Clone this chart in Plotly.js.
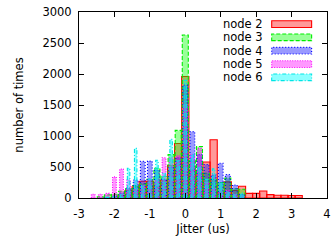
<!DOCTYPE html>
<html>
<head>
<meta charset="utf-8">
<script src="https://cdn.plot.ly/plotly-3.0.1.min.js"></script>
<style>html,body{margin:0;padding:0;background:#fff;}#chart{width:331px;height:244px;}</style>
</head>
<body>
<div id="chart"></div>
<script>
// Bin centres (us)
const bins = [-2.8,-2.6,-2.4,-2.2,-2.0,-1.8,-1.6,-1.4,-1.2,-1.0,-0.8,-0.6,-0.4,-0.2,0.0,0.2,0.4,0.6,0.8,1.0,1.2,1.4,1.6,1.8,2.0,2.2,2.4,2.6,2.8,3.0,3.2];
const seriesNames = ["node 2","node 3","node 4","node 5","node 6"];
const node2 = [0,0,0,0,10,40,120,180,270,270,180,290,525,880,1960,450,400,580,940,90,260,120,190,75,75,113,55,45,45,40,40];
const node3 = [0,0,20,50,60,110,150,200,230,300,480,350,700,1090,2630,600,830,400,300,250,320,150,140,0,0,0,0,0,0,0,0];
const node4 = [0,0,0,10,30,80,150,290,590,595,450,300,500,650,1820,1070,700,540,370,560,380,210,60,0,0,0,0,0,0,0,0];
const node5 = [0,60,60,75,340,465,290,150,200,300,280,650,650,680,1500,700,800,250,150,100,120,60,30,0,0,0,0,0,0,0,0];
const node6 = [0,0,0,10,20,60,480,800,200,300,610,400,945,600,1900,700,500,300,470,250,100,60,80,0,0,0,0,0,0,0,0];
const xTicks = [-3,-2,-1,0,1,2,3,4];
const yTicks = [0,500,1000,1500,2000,2500,3000];

const series = [node2,node3,node4,node5,node6];
const styles = [
  {line:'#ff0000', fill:'rgba(255,0,0,0.40)', dash:'solid', w:0.205},
  {line:'#00ee00', fill:'rgba(0,255,0,0.40)', dash:'4px,2px', w:0.17},
  {line:'#0000ff', fill:'rgba(0,0,255,0.40)', dash:'1px,2px', w:0.135},
  {line:'#ff00ff', fill:'rgba(255,0,255,0.40)', dash:'1px,1.5px', w:0.105},
  {line:'#00e5e5', fill:'rgba(0,255,255,0.45)', dash:'4px,2px,1px,2px', w:0.07}
];

const traces = series.map((vals, k) => {
  const st = styles[k];
  const xs = [], ys = [];
  bins.forEach((c, i) => {
    const v = vals[i];
    if (v <= 0) return;
    const a = c - st.w/2, b = c + st.w/2;
    xs.push(a, a, b, b, a, null);
    ys.push(0, v, v, 0, 0, null);
  });
  return {
    type:'scatter', mode:'lines', x:xs, y:ys, fill:'toself',
    fillcolor:st.fill, line:{color:st.line, width:1.1, dash:st.dash},
    name:seriesNames[k], showlegend:false, hoverinfo:'skip', connectgaps:false
  };
});

const font = {family:'DejaVu Sans, sans-serif', size:11.5, color:'#000'};
const shapes = [], annotations = [];
const rowY = [0.935,0.864,0.792,0.720,0.649];
seriesNames.forEach((n, k) => {
  const st = styles[k];
  shapes.push({type:'rect', xref:'paper', yref:'paper', x0:0.777, x1:0.938,
    y0:rowY[k]-0.018, y1:rowY[k]+0.018, fillcolor:st.fill,
    line:{color:st.line, width:1.1, dash:st.dash}});
  annotations.push({xref:'paper', yref:'paper', x:0.748, y:rowY[k], xanchor:'right', yanchor:'middle',
    text:n, showarrow:false, font:font});
});

const layout = {
  width:331, height:244,
  margin:{l:79, r:4, t:12, b:46},
  paper_bgcolor:'#fff', plot_bgcolor:'#fff',
  font:font,
  showlegend:false,
  xaxis:{range:[-3,4], tickvals:xTicks, ticktext:xTicks.map(String), ticks:'inside', ticklen:5,
    tickcolor:'#000', showline:true, linecolor:'#000', linewidth:1, mirror:'ticks',
    showgrid:false, zeroline:false, ticklabelstandoff:5,
    title:{text:'Jitter (us)', font:font, standoff:5}},
  yaxis:{range:[0,3000], tickvals:yTicks, ticktext:yTicks.map(String), ticks:'inside', ticklen:5,
    tickcolor:'#000', showline:true, linecolor:'#000', linewidth:1, mirror:'ticks',
    showgrid:false, zeroline:false, ticklabelstandoff:4,
    title:{text:'number of times', font:font, standoff:16}},
  shapes:shapes, annotations:annotations
};

Plotly.newPlot('chart', traces, layout, {staticPlot:true, displayModeBar:false});
</script>
</body>
</html>
